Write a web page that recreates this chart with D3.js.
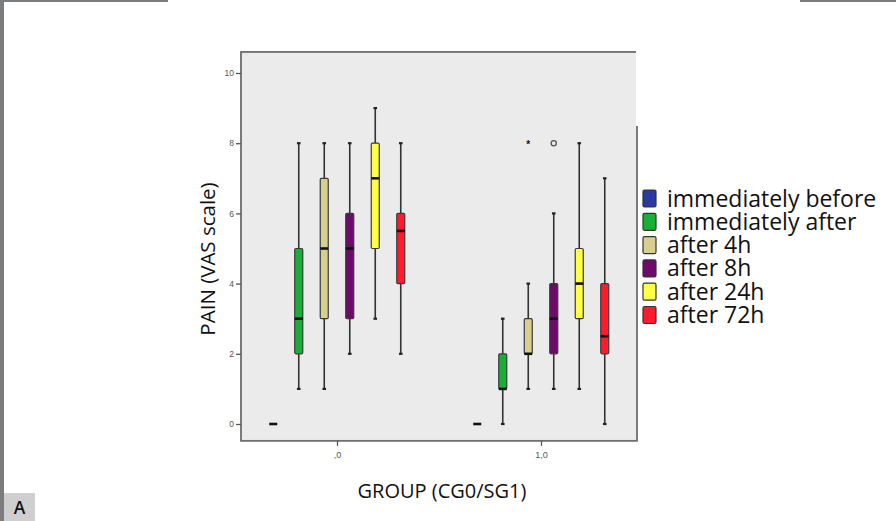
<!DOCTYPE html>
<html>
<head>
<meta charset="utf-8">
<script src="https://cdn.jsdelivr.net/npm/d3@7"></script>
<style>
  html, body { margin: 0; padding: 0; background: #fff; }
  svg { display: block; }
</style>
</head>
<body>
<svg id="chart" width="896" height="521"></svg>
<script>
// Pain (VAS) by group and time point
const groups = [",0", "1,0"];
const series = ["immediately before", "immediately after", "after 4h", "after 8h", "after 24h", "after 72h"];
const colors = ["#2a3a9c", "#16b035", "#d6cf8e", "#6d0a6b", "#ffff48", "#ff1a2c"];
const yTicks = [0, 2, 4, 6, 8, 10];

// five-number summaries [min, q1, median, q3, max], one row per series
const cgStats = [
  [0, 0, 0, 0, 0],
  [1, 2, 3, 5, 8],
  [1, 3, 5, 7, 8],
  [2, 3, 5, 6, 8],
  [3, 5, 7, 8, 9],
  [2, 4, 5.5, 6, 8]
];
const sgStats = [
  [0, 0, 0, 0, 0],
  [0, 1, 1, 2, 3],
  [1, 2, 2, 3, 4],
  [1, 2, 3, 4, 6],
  [1, 3, 4, 5, 8],
  [0, 2, 2.5, 4, 7]
];
// outliers: [group index, series index, value, kind]
const outliers = [
  [1, 2, 8, "extreme"],
  [1, 3, 8, "outlier"]
];

const svg = d3.select("#chart");
const W = 896, H = 521;
const plotLeft = 241, plotRight = 637;

const y = d3.scaleLinear().domain([0, 10]).range([424, 73]);
const plotTop = y(10.6), plotBottom = y(-0.48);

const x = d3.scalePoint().domain(groups).range([plotLeft, plotRight]).padding(0.4706);
const xInner = d3.scaleBand().domain(series).range([-76.5, 76.5]);
const boxW = 8;

// page decorations
svg.append("rect").attr("x", 0).attr("y", 0).attr("width", 4).attr("height", H).attr("fill", "#7a7c7e");
svg.append("rect").attr("x", 0).attr("y", 0).attr("width", 168).attr("height", 2).attr("fill", "#7a7c7e");
svg.append("rect").attr("x", 800).attr("y", 0).attr("width", 96).attr("height", 2).attr("fill", "#7a7c7e");
svg.append("rect").attr("x", 4).attr("y", 493).attr("width", 31).attr("height", 28).attr("fill", "#cfcfcf");
svg.append("text").attr("x", 19.5).attr("y", 513.5).attr("text-anchor", "middle")
  .attr("font-family", "Open Sans, sans-serif").attr("font-size", 17.5).attr("font-weight", 600)
  .attr("fill", "#111").text("A");

// plot frame
svg.append("rect").attr("x", plotLeft).attr("y", plotTop).attr("width", plotRight - plotLeft)
  .attr("height", plotBottom - plotTop)
  .attr("fill", "#ebebeb").attr("stroke", "#6e6e6e").attr("stroke-width", 1.8);

// y axis
const yAxis = svg.append("g").attr("transform", `translate(${plotLeft},0)`)
  .call(d3.axisLeft(y).tickValues(yTicks).tickSize(5).tickPadding(2).tickFormat(d3.format("d")));
yAxis.select(".domain").remove();
yAxis.selectAll(".tick line").attr("stroke", "#555").attr("stroke-width", 1.3);
yAxis.selectAll(".tick text").attr("font-family", "Liberation Sans, Arial, sans-serif")
  .attr("font-size", 8.5).attr("fill", "#555");

// x axis
const xAxis = svg.append("g").attr("transform", `translate(0,${plotBottom})`)
  .call(d3.axisBottom(x).tickSize(5).tickPadding(6));
xAxis.select(".domain").remove();
xAxis.selectAll(".tick line").attr("stroke", "#555").attr("stroke-width", 1.3);
xAxis.selectAll(".tick text").attr("font-family", "Liberation Sans, Arial, sans-serif")
  .attr("font-size", 9).attr("fill", "#555");

// boxes
const stats = [cgStats, sgStats];
groups.forEach((g, gi) => {
  series.forEach((s, si) => {
    const [mn, q1, md, q3, mx] = stats[gi][si];
    const cx = x(g) + xInner(s) + xInner.bandwidth() / 2;
    const bx = svg.append("g");
    if (mx > mn) {
      bx.append("line").attr("x1", cx).attr("x2", cx).attr("y1", y(mx)).attr("y2", y(q3))
        .attr("stroke", "#333").attr("stroke-width", 1.6);
      bx.append("line").attr("x1", cx).attr("x2", cx).attr("y1", y(q1)).attr("y2", y(mn))
        .attr("stroke", "#333").attr("stroke-width", 1.6);
      [mn, mx].forEach(v => {
        bx.append("line").attr("x1", cx - 1.8).attr("x2", cx + 1.8).attr("y1", y(v)).attr("y2", y(v))
          .attr("stroke", "#222").attr("stroke-width", 2.2);
      });
    }
    if (q3 > q1) {
      bx.append("rect").attr("x", cx - boxW / 2).attr("y", y(q3)).attr("width", boxW)
        .attr("height", y(q1) - y(q3)).attr("rx", 1.2)
        .attr("fill", colors[si]).attr("stroke", "#3a3a3a").attr("stroke-width", 1.2);
    }
    bx.append("line").attr("x1", cx - boxW / 2).attr("x2", cx + boxW / 2).attr("y1", y(md)).attr("y2", y(md))
      .attr("stroke", "#111").attr("stroke-width", 2.6);
  });
});

// outliers
outliers.forEach(([gi, si, v, kind]) => {
  const cx = x(groups[gi]) + xInner(series[si]) + xInner.bandwidth() / 2;
  if (kind === "outlier") {
    svg.append("circle").attr("cx", cx).attr("cy", y(v)).attr("r", 2.6)
      .attr("fill", "none").attr("stroke", "#555").attr("stroke-width", 1.3);
  } else {
    svg.append("text").attr("x", cx).attr("y", y(v) + 4.5).attr("text-anchor", "middle")
      .attr("font-family", "Liberation Sans, Arial, sans-serif").attr("font-size", 10).attr("font-weight", "bold")
      .attr("fill", "#111").text("*");
  }
});

// white patch at the top-right corner of the frame
svg.append("rect").attr("x", plotRight - 1).attr("y", 47).attr("width", 23).attr("height", 79).attr("fill", "#fff");

// axis titles
svg.append("text").attr("transform", `translate(215,259) rotate(-90)`).attr("text-anchor", "middle")
  .attr("font-family", "Open Sans, sans-serif").attr("font-size", 20.5).attr("fill", "#111")
  .text("PAIN (VAS scale)");
svg.append("text").attr("x", 442).attr("y", 498).attr("text-anchor", "middle")
  .attr("font-family", "Open Sans, sans-serif").attr("font-size", 20).attr("fill", "#111")
  .text("GROUP (CG0/SG1)");

// legend
const legend = svg.append("g").attr("transform", "translate(643,190)");
series.forEach((s, i) => {
  const row = legend.append("g").attr("transform", `translate(0,${i * 23.3})`);
  row.append("rect").attr("x", 0).attr("y", 0).attr("width", 13).attr("height", 17).attr("rx", 1.5)
    .attr("fill", colors[i]).attr("stroke", "#333").attr("stroke-width", 1.2);
  row.append("text").attr("x", 24).attr("y", 16.5)
    .attr("font-family", "Open Sans, sans-serif").attr("font-size", 23).attr("fill", "#111").text(s);
});
</script>
</body>
</html>
